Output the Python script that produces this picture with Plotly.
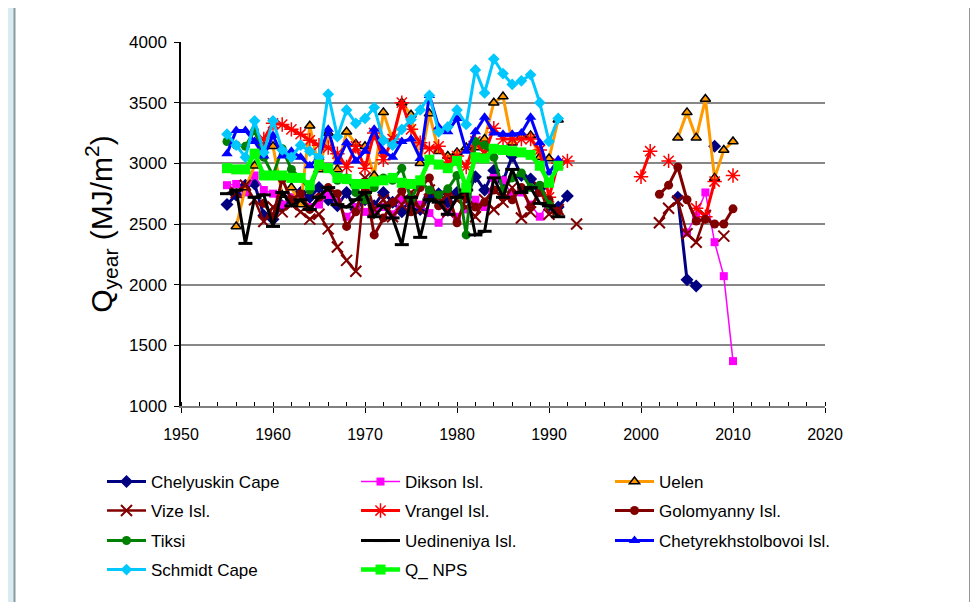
import plotly.graph_objects as go

# ---------------- data ----------------
years_early = list(range(1955, 1994))   # 1955..1993 (39 values)
years_gap = list(range(1994, 2000))     # no data
years_late = list(range(2000, 2011))    # 2000..2010 (11 values)

N = None

chelyuskin_early = [2660, 2740, 2820, 2830, 2570, 2540, 2650, 2700, 2760, 2720,
                    2800, 2700, 2650, 2760, 2620, 2700, 2650, 2760, 2680, 2600,
                    2720, 2620, 2720, 2750, 2680, 2760, 2720, 2890, 2780, 2940,
                    2850, 3060, 2900, 2870, 2790, 2650, 2640, 2730, N]
chelyuskin_late = [N, N, N, N, 2720, 2040, 1990, N, 3140, N, N]

dikson_early = [2820, 2830, 2760, 2900, 2780, 2750, 2660, 2720, 2700, 2640,
                2660, 2740, 2680, 2560, 2640, 2600, 2620, 2640, 2580, 2700,
                2620, 2660, 2590, 2510, 2600, 2560, 2620, 2700, 2640, 2880,
                2860, 2740, 2760, 2660, 2560, 2680, N, N, N]
dikson_late = [N, N, N, N, N, 2430, 2570, 2760, 2350, 2070, 1370]

uelen_early = [N, 2480, 2800, 2980, 3140, 3140, 2740, 2800, 2660, 3310,
               2950, 3250, 2950, 3260, 3160, 3140, 2900, 3420, 3190, 3500,
               3400, 3000, 3410, 3100, 3060, 3090, 3130, 3130, 3200, 3500,
               3550, 3170, 3220, 3230, 3050, 3040, 3360, N, N]
uelen_late = [N, N, N, N, 3210, 3420, 3210, 3530, 2880, 3110, 3180]

vize_early = [N, 2760, 2820, 2700, 2520, 2640, 2600, 2660, 2600, 2540,
              2580, 2460, 2310, 2200, 2110, 2880, 2620, 2700, 2560, 2660,
              2760, 2620, 2780, 2720, 2600, 2700, 2640, 2560, 2700, 2620,
              2680, 2800, 2550, 2600, 2800, 2580, 2620, N, 2500]
vize_late = [N, N, 2510, 2630, 2690, 2420, 2350, 2570, N, 2400, N]

vrangel_early = [N, N, N, N, 3200, 3330, 3320, 3280, 3240, 3190,
                 3150, 3130, 3080, 2970, 3140, 2960, 3250, 3030, 3200, 3500,
                 3280, 3170, 3120, 3140, 3010, 3060, 2970, 3180, 3080, 3290,
                 3200, 3200, 3200, 3200, 3110, 2720, 3000, 3020, N]
vrangel_late = [2890, 3100, N, 3020, N, N, 2630, 2560, 2850, N, 2900]

golomyanny_early = [N, N, N, N, 2670, 2560, 2870, 2700, 2750, 2620,
                    2720, 2800, 2750, 2480, 2600, 2850, 2410, 2550, 2680, 2770,
                    2600, 2800, 2880, 2650, 2760, 2510, 2720, 2640, 2680, 2780,
                    2720, 2700, 2800, 2640, 2760, 2700, 2600, N, N]
golomyanny_late = [N, N, 2745, 2820, 2970, 2700, 2525, 2540, 2500, 2500, 2625]

tiksi_early = [3180, 3150, 3140, 3270, 3050, 2900, 3120, 2950, 2880, 2780,
               2980, 2960, 2860, 2880, 2760, 2700, 2800, 2880, 2860, 2960,
               2700, 2850, 2780, 2740, 2790, 2900, 2410, 3180, 3150, 3050,
               2780, 2880, 2920, 2800, 2820, 2660, N, N, N]
tiksi_late = [N] * 11

uedineniya_early = [2750, 2780, 2340, 2720, 2740, 2480, 2760, 2650, 2700, 2620,
                    2720, 2800, 2660, 2640, 2700, 2760, 2560, 2650, 2550, 2330,
                    2720, 2390, 2700, 2680, 2580, 2720, 2780, 2410, 2440, 2880,
                    2720, 2950, 2760, 2800, 2670, 2650, 2560, N, N]
uedineniya_late = [N] * 11

chetyrekh_early = [3080, 3270, 3270, 3180, 3060, 3230, 3060, 3100, 3050, 2980,
                   3050, 3280, 3010, 3170, 3020, 3100, 3280, 3100, 3050, 3180,
                   3200, 3040, 3560, 3300, 3260, 3370, 3100, 3260, 3380, 3250,
                   3240, 3240, 3250, 3380, 3170, 2920, 3030, N, N]
chetyrekh_late = [N] * 11

schmidt_early = [3240, 3150, 3050, 3350, 3090, 3350, 3110, 3050, 3150, 3100,
                 3050, 3570, 3220, 3440, 3330, 3370, 3460, 3190, 3150, 3280,
                 3360, 3440, 3560, 3260, 3300, 3440, 3320, 3770, 3580, 3860,
                 3740, 3650, 3680, 3730, 3500, 3180, 3370, N, N]
schmidt_late = [N] * 11

qnps_early = [2960, 2950, 2950, 3080, 2900, 2900, 2900, 2880, 2880, 2820,
              2990, 2960, 2880, 2870, 2830, 2830, 2850, 2860, 2880, 2840,
              2830, 2860, 3030, 2990, 2960, 3020, 2800, 3050, 3040, 3120,
              3110, 3100, 3090, 3070, 2980, 2840, 2980, N, N]
qnps_late = [N] * 11

x_ticks = [1950, 1960, 1970, 1980, 1990, 2000, 2010, 2020]
y_ticks = [1000, 1500, 2000, 2500, 3000, 3500, 4000]

years_all = years_early + years_gap + years_late


def full(early, late):
    return early + [None] * len(years_gap) + late


series = [
    ("Chelyuskin Cape", chelyuskin_early, chelyuskin_late, "#000080",
     dict(symbol="diamond", size=10, color="#000080"), 3),
    ("Dikson Isl.", dikson_early, dikson_late, "#FF00FF",
     dict(symbol="square", size=8, color="#FF00FF"), 1.5),
    ("Uelen", uelen_early, uelen_late, "#FF9900",
     dict(symbol="triangle-up", size=9, color="#FF9900",
          line=dict(color="black", width=1.5)), 3),
    ("Vize Isl.", vize_early, vize_late, "#800000",
     dict(symbol="x-thin-open", size=11, color="#800000",
          line=dict(color="#800000", width=2)), 2.5),
    ("Vrangel Isl.", vrangel_early, vrangel_late, "#FF0000",
     dict(symbol="asterisk-open", size=12, color="#FF0000",
          line=dict(color="#FF0000", width=1.5)), 3),
    ("Golomyanny Isl.", golomyanny_early, golomyanny_late, "#800000",
     dict(symbol="circle", size=9, color="#800000"), 3),
    ("Tiksi", tiksi_early, tiksi_late, "#008000",
     dict(symbol="circle", size=9, color="#008000"), 3),
    ("Uedineniya Isl.", uedineniya_early, uedineniya_late, "#000000",
     dict(symbol="line-ew-open", size=10, color="#000000",
          line=dict(color="#000000", width=3)), 3),
    ("Chetyrekhstolbovoi Isl.", chetyrekh_early, chetyrekh_late, "#0000FF",
     dict(symbol="triangle-up", size=10, color="#0000FF"), 3),
    ("Schmidt Cape", schmidt_early, schmidt_late, "#00C8FF",
     dict(symbol="diamond", size=9, color="#00C8FF"), 3),
    ("Q_ NPS", qnps_early, qnps_late, "#00FF00",
     dict(symbol="square", size=10, color="#00FF00"), 4.5),
]

legend_ids = ["legend", "legend2", "legend3", "legend4"]

fig = go.Figure()
for i, (name, early, late, col, mk, lw) in enumerate(series):
    fig.add_trace(go.Scatter(
        x=years_all, y=full(early, late), name=name, mode="lines+markers",
        line=dict(color=col, width=lw), marker=mk, connectgaps=False,
        legend=legend_ids[i // 3],
    ))

# page offset (the html body has an 8px margin)
OFF = 8
W, H = 978 - OFF, 602 - OFF
# plot area in page pixels: x 181..825, y 42..406
L, R, T, B = 181 - OFF, 825 - OFF, 42 - OFF, 406 - OFF
pw, ph = R - L, B - T


def px(page_x):
    return (page_x - OFF - L) / pw


def py(page_y):
    return (B - (page_y - OFF)) / ph


row_centers = [482, 511, 541, 570]


def legend_row(yc):
    return dict(
        orientation="h", x=px(102), xanchor="left", y=py(yc), yanchor="middle",
        entrywidth=200, entrywidthmode="pixels", itemwidth=39,
        font=dict(size=17), bgcolor="rgba(0,0,0,0)", tracegroupgap=0,
    )


fig.update_layout(
    width=W, height=H,
    margin=dict(l=L, r=W - R, t=T, b=H - B, pad=0, autoexpand=False),
    paper_bgcolor="#DAEBEF",
    plot_bgcolor="white",
    font=dict(family="Liberation Sans, Arial, sans-serif", color="black", size=17),
    showlegend=True,
    legend=legend_row(row_centers[0]),
    legend2=legend_row(row_centers[1]),
    legend3=legend_row(row_centers[2]),
    legend4=legend_row(row_centers[3]),
    shapes=[
        dict(type="rect", xref="paper", yref="paper", layer="below",
             x0=px(15), x1=px(970), y0=py(620), y1=py(-20),
             fillcolor="white", line=dict(width=0)),
        dict(type="line", xref="paper", yref="paper", layer="above",
             x0=px(14.5), x1=px(14.5), y0=py(620), y1=py(-20),
             line=dict(color="#8A9A9E", width=2)),
        dict(type="line", xref="paper", yref="paper", layer="above",
             x0=px(970.5), x1=px(970.5), y0=py(620), y1=py(-20),
             line=dict(color="#303030", width=2)),
    ],
)

fig.update_xaxes(
    range=[1950, 2020], tickvals=x_ticks, ticktext=[str(v) for v in x_ticks],
    showgrid=False, zeroline=False,
    showline=True, linecolor="#808080", linewidth=2,
    ticks="outside", ticklen=5, tickcolor="black", tickwidth=1,
    minor=dict(ticks="inside", dtick=2, ticklen=4, tickcolor="black", tickwidth=1,
               showgrid=False),
    ticklabelstandoff=8,
    tickfont=dict(size=16),
)
fig.update_yaxes(
    range=[1000, 4000], tickvals=y_ticks, ticktext=[str(v) for v in y_ticks],
    showgrid=True, gridcolor="#878787", gridwidth=2, zeroline=False,
    showline=True, linecolor="black", linewidth=1.5,
    ticks="outside", ticklen=5, tickcolor="black", tickwidth=1,
    ticklabelstandoff=4,
    tickfont=dict(size=17),
    title=dict(text="Q<sub>year</sub> (MJ/m<sup>2</sup>)", font=dict(size=30),
               standoff=8),
)

fig.write_html("out.html")
